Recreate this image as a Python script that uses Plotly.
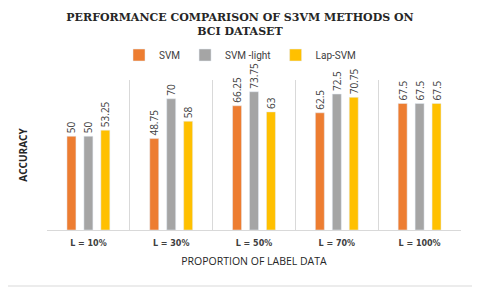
import plotly.graph_objects as go

categories = ["L = 10%", "L = 30%", "L = 50%", "L = 70%", "L = 100%"]
svm = [50, 48.75, 66.25, 62.5, 67.5]
svm_light = [50, 70, 73.75, 72.5, 67.5]
lap_svm = [53.25, 58, 63, 70.75, 67.5]

series = [
    ("SVM", svm, "#ED7D31"),
    ("SVM -light", svm_light, "#A5A5A5"),
    ("Lap-SVM", lap_svm, "#FFC000"),
]

fig = go.Figure()
for name, vals, color in series:
    fig.add_trace(go.Bar(
        x=categories, y=vals, name=name, marker_color=color,
        text=[f"{v:g}" for v in vals], textposition="outside", textangle=-90,
        constraintext="none", cliponaxis=False,
        textfont=dict(size=10, color="#404040", family="Open Sans"),
    ))

# page body adds an 8px offset; figure sized to fit the 480x287 window
W, H = 472, 279
ml, mr, mt, mb = 39, 19, 72, 57
pw, ph = W - ml - mr, H - mt - mb

fig.update_layout(
    width=W, height=H,
    margin=dict(l=ml, r=mr, t=mt, b=mb, autoexpand=False),
    paper_bgcolor="white", plot_bgcolor="white",
    barmode="group", bargap=0.386, bargroupgap=0.47,
    title=dict(
        text="<b>PERFORMANCE COMPARISON OF S3VM METHODS ON<br>BCI DATASET</b>",
        x=(240 - 8) / W, xanchor="center", y=1 - 13 / H, yanchor="top",
        font=dict(family="DejaVu Serif", size=11, color="#262626"),
    ),
    legend=dict(
        orientation="h", x=(240 - 8 - ml) / pw, xanchor="center",
        y=1 + (mt - 47) / ph, yanchor="middle",
        font=dict(family="Liberation Sans Narrow, Roboto, sans-serif", size=10, color="#404040"),
        itemwidth=30, tracegroupgap=0, bgcolor="rgba(0,0,0,0)",
    ),
    xaxis=dict(
        automargin=False,
        tickson="boundaries", showgrid=True, gridcolor="#D9D9D9", gridwidth=1,
        showline=True, linecolor="#D9D9D9", ticks="", ticklabelstandoff=5,
        tickfont=dict(family="DejaVu Sans", size=8, color="#404040"),
        title=dict(text="PROPORTION OF LABEL DATA", standoff=11,
                   font=dict(family="Open Sans", size=10.5, color="#262626")),
    ),
    yaxis=dict(
        automargin=False,
        range=[0, 80], showgrid=False, showticklabels=False, zeroline=False,
        title=dict(text="<b>ACCURACY</b>", standoff=16,
                   font=dict(family="Open Sans", size=10, color="#262626")),
    ),
    shapes=[
        dict(type="line", xref="paper", yref="paper",
             x0=(467 - ml) / pw, x1=(467 - ml) / pw, y0=-(mb - 1) / ph, y1=1 + mt / ph,
             line=dict(color="#D9D9D9", width=1)),
        dict(type="line", xref="paper", yref="paper",
             x0=-ml / pw, x1=(467 - ml) / pw, y0=-(mb - 1) / ph, y1=-(mb - 1) / ph,
             line=dict(color="#D9D9D9", width=1)),
    ],
)
fig.update_xaxes(tickprefix="<b>", ticksuffix="</b>")

fig.write_html("out.html")
